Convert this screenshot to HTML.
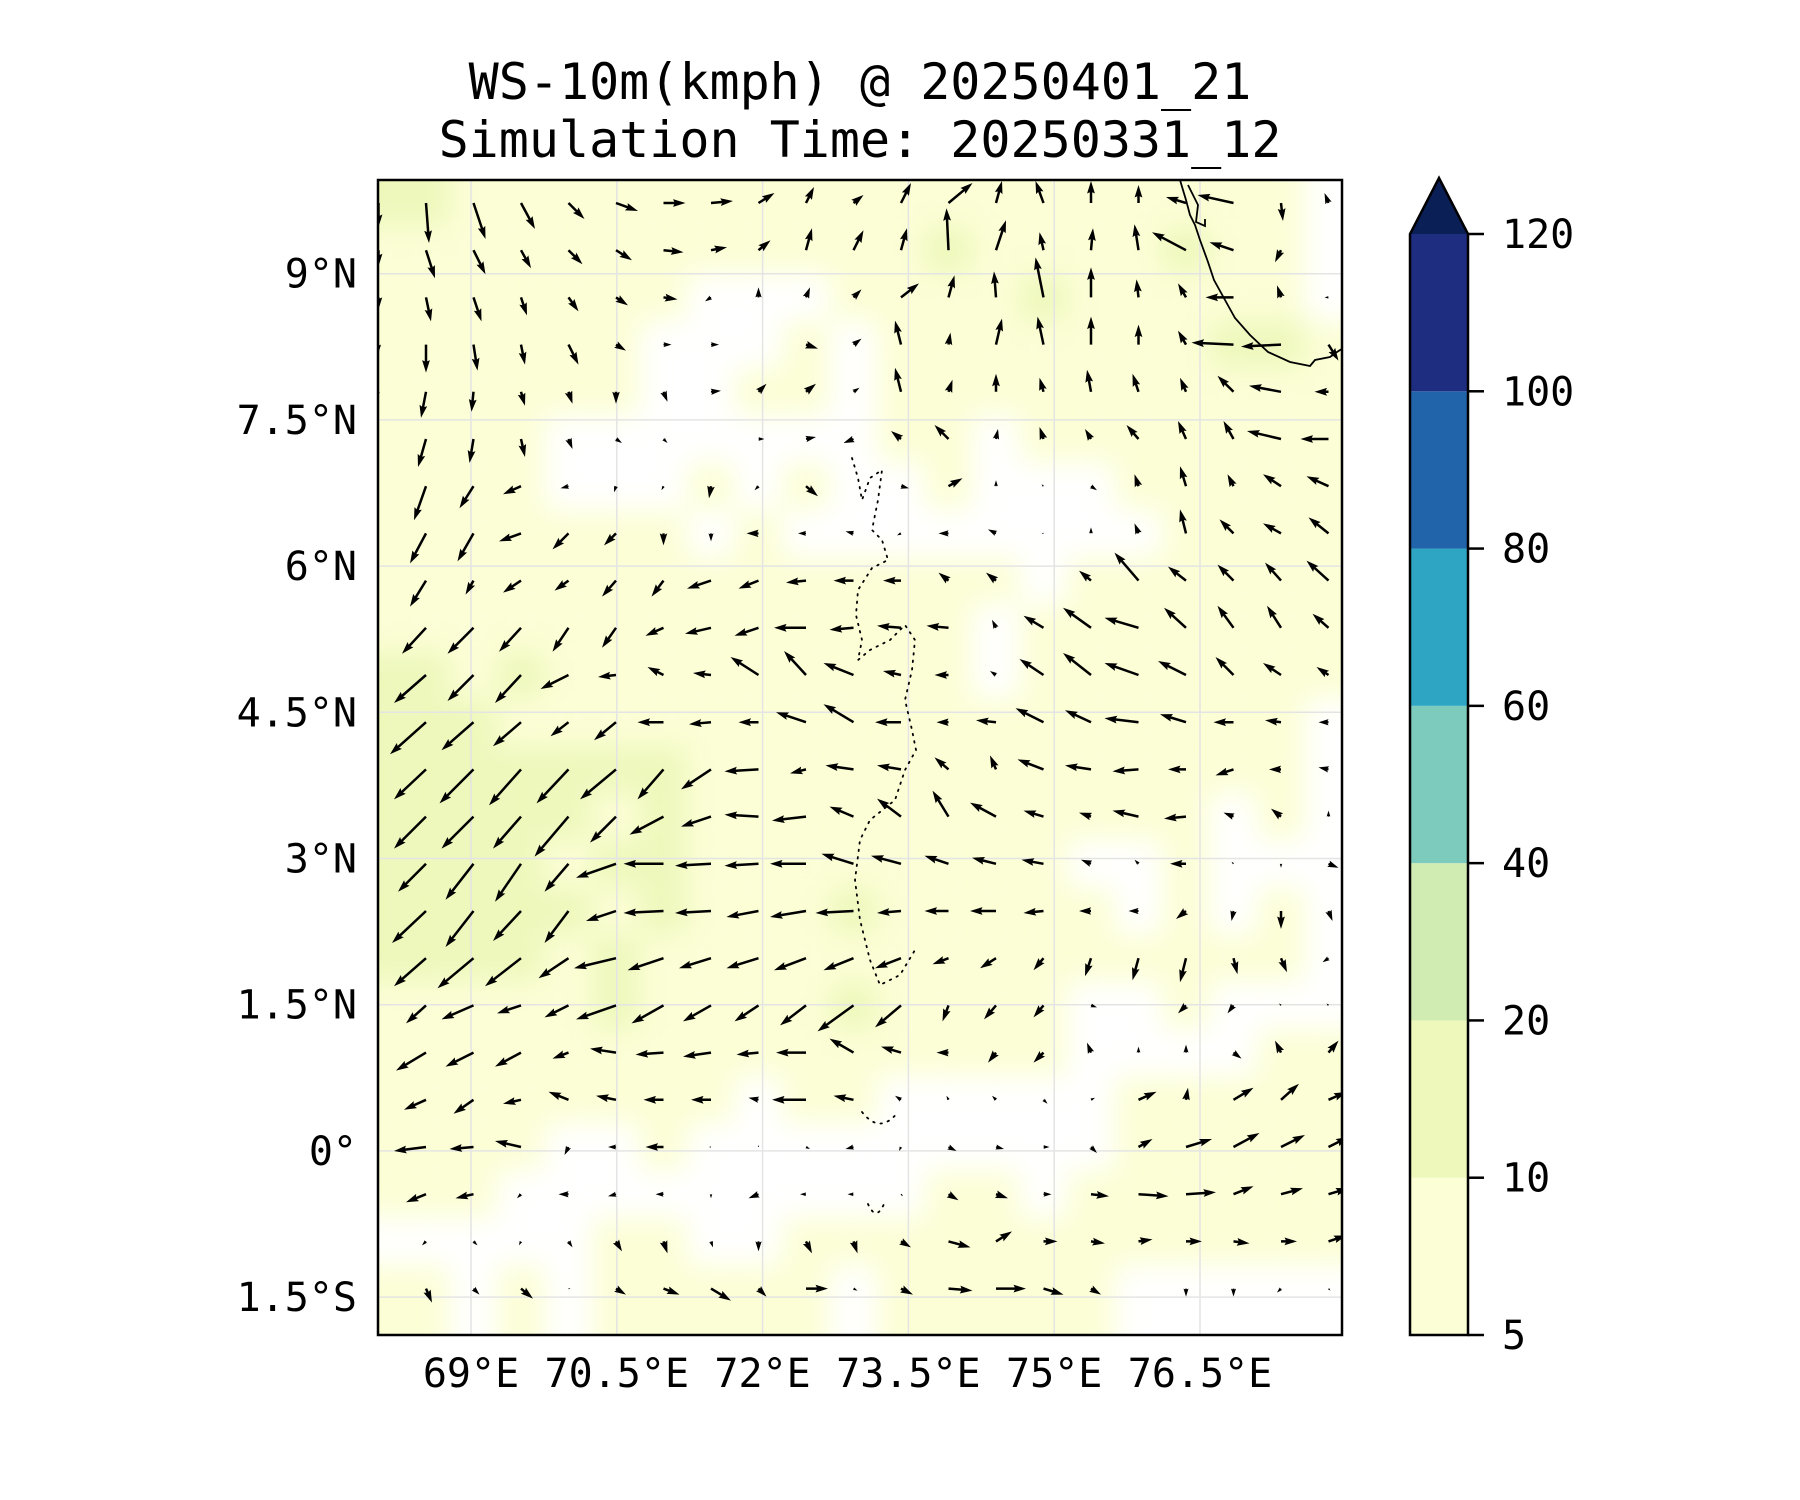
<!DOCTYPE html>
<html><head><meta charset="utf-8"><style>
html,body{margin:0;padding:0;background:#fff;}
svg{display:block;}
text{font-family:"DejaVu Sans Mono","Liberation Mono",monospace;fill:#000;}
</style></head><body>
<svg id="chart" width="1800" height="1500" viewBox="0 0 1800 1500" xmlns="http://www.w3.org/2000/svg">
<defs>
<clipPath id="plotclip"><rect x="378" y="180" width="964" height="1155"/></clipPath>
<filter id="soft" x="-5%" y="-5%" width="110%" height="110%"><feGaussianBlur stdDeviation="14"/></filter>
</defs>
<text x="860" y="99" font-size="50" text-anchor="middle">WS-10m(kmph) @ 20250401_21</text>
<text x="860" y="157" font-size="50" text-anchor="middle">Simulation Time: 20250331_12</text>
<g clip-path="url(#plotclip)">
<rect x="378" y="180" width="964" height="1155" fill="#fff"/>
<g id="fill" filter="url(#soft)"></g>
<g id="grid"></g>
<path d="M1180,180 L1186,200 L1190,215 L1195,225 L1200,240 L1208,262 L1214,280 L1225,300 L1235,318 L1250,335 L1268,352 L1290,362 L1310,366 L1315,360 L1330,357 L1337,352 L1348,345 M1188,185 L1198,205 L1196,222 L1205,226 L1205,219" fill="none" stroke="#000" stroke-width="1.8"/>
<path d="M852,458 L858,478 L862,500 L870,478 L882,470 L878,500 L872,530 L882,540 L888,560 L872,568 L858,590 L856,615 L862,640 L858,660 L870,650 L890,640 L905,625 L915,640 L912,670 L905,700 L912,730 L916,750 L905,770 L895,800 L870,820 L860,840 L855,880 L860,920 L870,960 L880,985 L900,975 L915,950 M862,1112 Q880,1135 898,1112 M868,1204 Q876,1222 884,1204" fill="none" stroke="#000" stroke-width="1.8" stroke-dasharray="1.5 6" stroke-linecap="round"/>
<g id="arrows"></g>
</g>
<rect x="378" y="180" width="964" height="1155" fill="none" stroke="#000" stroke-width="2.5"/>
<g id="axes"></g>
<g id="cbar"></g>
</svg>
<script>
const lonTicks=[69,70.5,72,73.5,75,76.5];
const lonLabels=["69°E","70.5°E","72°E","73.5°E","75°E","76.5°E"];
const latTicks=[9,7.5,6,4.5,3,1.5,0,-1.5];
const latLabels=["9°N","7.5°N","6°N","4.5°N","3°N","1.5°N","0°","1.5°S"];
const cbarLevels=[5,10,20,40,60,80,100,120];
const cbarColors=["#fcfed6","#eef8bb","#d0ecb3","#7dcbbd","#2fa5c4","#2264aa","#1e2d7f"];
const cbarExtendColor="#0b1f57";
const U=[
[0,1.5,6,7,8,11,11,11,8,4,5,5,12,3,-4,0,0,-10,-18,1,-2],
[0,4.5,6,5,7,8,10,8,6,3,5,3,-1,5,-2,1,-2,-17,-12,-3,0],
[0,2.5,4,3,5,6,7,-3,0,2,4,9,3,-1,-4,0,-1,-4,-14,-2,-2],
[0,0,2,2,5,5,4,4,0,6,4,-3,1,3,-3,0,0,-4,-21,-20,5],
[0,-2.5,-1,2,2,0,2,5,4,5,3,-3,2,0,-2,-2,-3,-3,-8,-16,-7],
[0,-4,-2,2,2,3,2,0,3,5,-5,-5,-7,1,-2,-3,-6,-4,-5,-17,-14],
[0,-6,-7,-9,-4,-1,-1,-1,-2,6,0,4,7,0,-1,3,-2,-3,-3,-9,-11],
[0,-8,-8,-11,-8,-6,0,0,-6,-4,-4,-2,-5,-4,-1,0,-2,-3,-7,-9,-10],
[0,-8,-4,-9,-7,-7,-6,-12,-10,-10,-10,-9,-5,-5,0,-6,-12,-9,-8,-8,-11],
[0,-12,-13,-11,-8,-7,-9,-13,-12,-16,-12,-12,-11,-2,-10,-14,-17,-11,-8,-7,-8],
[0,-16,-13,-13,-14,-9,-8,-9,-14,-11,-15,-9,-7,-3,-12,-14,-17,-14,-9,-9,-6],
[0,-18,-16,-14,-9,-11,-13,-11,-10,-15,-15,-13,-6,-10,-14,-13,-17,-13,-10,-8,-5],
[0,-16,-17,-16,-16,-18,-13,-15,-17,-8,-14,-12,-7,-3,-13,-13,-13,-9,-9,-6,-5],
[0,-16,-16,-14,-17,-13,-17,-15,-17,-17,-12,-12,-8,-13,-10,-6,-13,-11,-5,-5,0],
[0,-14,-14,-13,-12,-20,-20,-18,-17,-18,-16,-15,-12,-12,-11,-5,-2,-8,-1,0,5],
[0,-17,-14,-14,-12,-15,-20,-18,-16,-18,-19,-12,-12,-13,-10,-6,-5,-5,-1,0,2],
[0,-16,-18,-18,-15,-21,-18,-16,-16,-16,-15,-13,-8,-8,-5,-3,-3,-3,2,3,-3],
[0,-10,-16,-12,-12,-20,-16,-14,-12,-13,-18,-13,-3,-6,-5,3,0,-4,-3,-1,-1],
[0,-15,-14,-13,-8,-13,-14,-14,-11,-15,-12,-10,-6,-4,-5,-2,0,0,4,-3,5],
[0,-11,-10,-9,-10,-10,-10,-10,-5,-17,-10,-3,-1,-2,2,2,9,1,10,9,9],
[0,-16,-12,-13,-2,-4,-9,-1,0,2,-4,-1,4,4,3,3,7,13,13,12,10],
[0,-10,-9,-2,-5,-4,-4,0,-5,-3,-3,1,5,6,4,9,15,15,10,11,10],
[0,-2,2,-1,2,3,2,1,0,3,2,5,11,8,7,7,7,8,8,8,9],
[0,3,3,6,1,5,8,10,4,11,2,6,12,15,10,5,0,0,0,-2,1]];
const V=[
[-12,-20,-18,-13,-8,-4,0,1,5,8,4,10,10,11,11,11,9,3,4,-9,5],
[-8,-14,-12,-9,-7,-5,-1,1.5,5,11,10,11,21,15,9,11,13,9,4,-6,0],
[-6,-12,-12,-9,-7,-4,-1,-2,5,5,4,7,11,13,20,15,9,7,0,6,0],
[-4,-14,-13,-10,-10,-3,0,0,0,-2,3,12,6,13,14,14,10,7,1,-1,-8],
[-2,-13,-10,-7,-6,-6,-5,0.5,4,4,2,12,6,9,7,11,9,7,8,3,0],
[0,-14,-12,-9,-5,-2,-2,0,0,1,-2,4,7,5,6,5,7,9,9,4,0],
[0,-17,-11,-4,-1,-3,-2,-6,-2,-5,0,-1,4,3,1,-2,6,10,6,6,5],
[0,-15,-14,-4,-8,-6,-6,-4,0,0,1,-1,0,2,0,3,5,12,7,5,8],
[0,-13,-7,-6,-5,-8,-8,-4,-4,-1,0,0,4,4,0,5,14,7,8,9,10],
[0,-13,-13,-12,-12,-10,-4,-3,-4,0,-1,1,1,4,6,10,5,10,11,11,7],
[0,-14,-13,-14,-7,-1,4,1,9,12,6,2,0,2,8,11,6,7,9,6,4],
[0,-16,-14,-12,-7,-9,0,-1,0,5,9,0,0,1,7,6,2,4,0,1,0],
[0,-15,-17,-18,-17,-15,-15,-10,-1,-2,2,2,6,7,5,2,-1,0,-3,0,1],
[0,-16,-16,-16,-20,-13,-9,-5,1,-2,5,9,13,7,3,2,3,-1,2,4,3],
[0,-14,-18,-19,-14,-7,0,-1,-1,0,5,4,4,3,2,2,2,0,1,-2,-2],
[0,-16,-18,-15,-16,-5,-1,-1,-3,-3,-1,-1,0,0,-1,0,0,-4,-5,-9,-5],
[0,-14,-15,-14,-10,-5,-6,-5,-5,-6,-6,-5,-3,-5,-6,-9,-11,-12,-8,-7,-2],
[0,-9,-7,-4,-6,-7,-9,-8,-8,-10,-13,-11,-8,-7,-6,-1,0,-4,-4,1,1],
[0,-9,-7,-7,-3,2,-1,-2,-1,0,7,3,0,-5,-5,5,3,4,-3,6,6],
[0,-5,-7,-2,4,2,0,0,1,0,2,2,2,2,-2,1,4,6,6,8,4],
[0,-2,-1,3,-4,0,0,0,1,-1,-1,-2,-2,-1,0,-3,4,4,7,6,5],
[0,-4,-2,-2,0,-1,0,-2,-2,0,0,-1,-3,-2,0,-1,-1,1,4,3,3],
[0,-2,-2,-2,-3,-5,-6,-3,-5,-6,-6,-3,-3,5,0,-1,1,0,-1,0,3],
[0,-7,-3,-5,0,-3,-3,-6,-4,0,-1,-3,-1,0,-3,-3,0,-4,-4,-2,-1]];

const NS="http://www.w3.org/2000/svg";
function mk(tag,attrs,parent){const e=document.createElementNS(NS,tag);for(const k in attrs)e.setAttribute(k,attrs[k]);parent.appendChild(e);return e;}
const xLon=lon=>471+(lon-69)*145.8/1.5;
const yLat=lat=>273.7-(lat-9)*146.2/1.5;
const gx=k=>378.5+47.5*k;
const gy=j=>203+47.2*j;
const PX=2;

const fillG=document.getElementById('fill');
for(let j=0;j<U.length;j++){for(let k=0;k<U[j].length;k++){
  const kk=k===0?1:k;
  const m=Math.hypot(U[j][kk],V[j][kk]);
  let c=null;
  if(m>=19)c=cbarColors[1];else if(m>=5.5)c=cbarColors[0];
  if(!c)continue;
  let x0=gx(k)-23.75,x1=gx(k)+23.75,y0=gy(j)-23.6,y1=gy(j)+23.6;
  if(k===0)x0-=40; if(k===U[j].length-1)x1+=40; if(j===0)y0-=40; if(j===U.length-1)y1+=60;
  const r=mk('rect',{x:x0,y:y0,width:x1-x0,height:y1-y0,fill:c},fillG);
  
  
}}

const gridG=document.getElementById('grid');
lonTicks.forEach(l=>{const e=mk('line',{x1:xLon(l),x2:xLon(l),y1:180,y2:1335,stroke:'#e4e4e4','stroke-width':1.5},gridG);
  
  });
latTicks.forEach(l=>{const e=mk('line',{x1:378,x2:1342,y1:yLat(l),y2:yLat(l),stroke:'#e4e4e4','stroke-width':1.5},gridG);
  
  });

const arrG=document.getElementById('arrows');
const w=2.5,hw=7.8,hl=12.5,hal=11.2;
for(let j=0;j<U.length;j++){for(let k=0;k<U[j].length;k++){
  const u=U[j][k],v=V[j][k];const L=Math.hypot(u,v)*PX;
  if(L<0.8)continue;
  const ang=Math.atan2(-v,u)*180/Math.PI;
  let pts;
  if(L>=hl){pts=[[0,-w/2],[L-hal,-w/2],[L-hl,-hw/2],[L,0],[L-hl,hw/2],[L-hal,w/2],[0,w/2]];}
  else{const s=L/hl;pts=[[0,-w/2*s],[L-hal*s,-w/2*s],[0,-hw/2*s],[L,0],[0,hw/2*s],[L-hal*s,w/2*s],[0,w/2*s]];}
  const p=mk('polygon',{points:pts.map(q=>q[0].toFixed(2)+','+q[1].toFixed(2)).join(' '),fill:'#000',transform:`translate(${gx(k)},${gy(j)}) rotate(${ang})`},arrG);
  
  
}}

const axG=document.getElementById('axes');
lonTicks.forEach((l,i)=>{const t=mk('text',{x:xLon(l),y:1387,'font-size':40,'text-anchor':'middle'},axG);t.textContent=lonLabels[i];
  
  });
latTicks.forEach((l,i)=>{const t=mk('text',{x:357,y:yLat(l)+14,'font-size':40,'text-anchor':'end'},axG);t.textContent=latLabels[i];
  
  });

const cb=document.getElementById('cbar');
const cbX=1410,cbW=58,cbTop=234,cbBot=1335;
const cbY=i=>cbBot-(cbBot-cbTop)*i/(cbarLevels.length-1);
for(let i=0;i<cbarColors.length;i++){
  const r=mk('rect',{x:cbX,y:cbY(i+1),width:cbW,height:cbY(i)-cbY(i+1),fill:cbarColors[i]},cb);
  
  
}
const tri=mk('polygon',{points:`${cbX},${cbTop} ${cbX+cbW/2},178 ${cbX+cbW},${cbTop}`,fill:cbarExtendColor},cb);


const outline=mk('path',{d:`M${cbX},${cbBot} L${cbX},${cbTop} L${cbX+cbW/2},178 L${cbX+cbW},${cbTop} L${cbX+cbW},${cbBot} Z`,fill:'none',stroke:'#000','stroke-width':2.5},cb);


cbarLevels.forEach((lv,i)=>{
  const y=cbY(i);
  const tk=mk('line',{x1:cbX+cbW,x2:cbX+cbW+16,y1:y,y2:y,stroke:'#000','stroke-width':2.5},cb);
  
  
  const t=mk('text',{x:1502,y:y+14,'font-size':40},cb);t.textContent=lv;
  
  
});
</script>
</body></html>
